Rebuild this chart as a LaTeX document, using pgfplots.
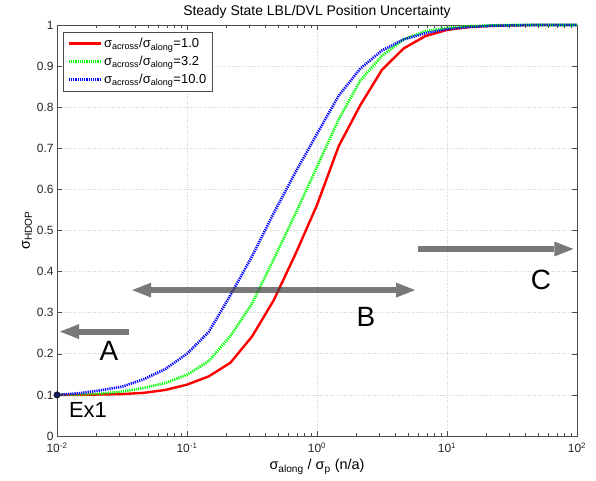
\documentclass[border=0pt]{standalone}
\usepackage{fontspec}
\setmainfont{Liberation Sans}
\usepackage{pgfplots}
\usepackage{pgfplotstable}
\pgfplotsset{compat=1.18}
\usetikzlibrary{arrows.meta}

\pgfplotstableread{
x       r      g      b
0.01    0.100  0.100  0.100
0.01468 0.100  0.101  0.104
0.02154 0.101  0.103  0.111
0.03162 0.102  0.108  0.120
0.04642 0.105  0.117  0.138
0.06813 0.112  0.129  0.163
0.1     0.125  0.149  0.200
0.1468  0.145  0.182  0.253
0.2154  0.178  0.243  0.342
0.3162  0.242  0.322  0.437
0.4642  0.330  0.430  0.542
0.6813  0.442  0.540  0.641
1.0     0.562  0.655  0.735
1.468   0.705  0.770  0.828
2.154   0.805  0.865  0.894
3.162   0.891  0.925  0.938
4.642   0.943  0.965  0.965
6.813   0.973  0.985  0.980
10      0.988  0.993  0.990
14.68   0.995  0.997  0.995
21.54   0.998  0.999  0.998
31.62   0.999  1.000  0.999
46.42   1.000  1.000  1.000
68.13   1.000  1.000  1.000
100     1.000  1.000  1.000
}\curves

\definecolor{arrowgray}{RGB}{64,64,64}
\definecolor{dotnavy}{RGB}{20,30,90}

\begin{document}
\begin{tikzpicture}
\useasboundingbox (-57bp,-45bp) rectangle (539bp,436bp);
\begin{axis}[
  at={(0,0)}, anchor=south west, scale only axis,
  width=520bp, height=411bp,
  xmode=log, xmin=0.01, xmax=100, ymin=0, ymax=1,
  clip=false,
  xtick={0.01,0.1,1,10,100},
  xticklabels={10\textsuperscript{-2},10\textsuperscript{-1},10\textsuperscript{0},10\textsuperscript{1},10\textsuperscript{2}},
  ytick={0,0.1,0.2,0.3,0.4,0.5,0.6,0.7,0.8,0.9,1},
  yticklabels={0,0.1,0.2,0.3,0.4,0.5,0.6,0.7,0.8,0.9,1},
  grid=major, major grid style={dotted, gray!35, line width=0.6bp},
  axis line style={gray!60!black},
  every tick/.style={gray!60!black},
  major tick length=5bp, minor tick length=3bp,
  tick label style={font=\fontsize{12}{14}\selectfont, text=black!85},
  xticklabel style={yshift=-3bp},
  title={Steady State LBL/DVL Position Uncertainty},
  title style={font=\fontsize{14}{16}\selectfont, yshift=-3bp},
  xlabel={σ\textsubscript{along} / σ\textsubscript{p} (n/a)},
  ylabel={σ\textsubscript{HDOP}},
  ylabel style={yshift=-2bp},
  label style={font=\fontsize{14.5}{16}\selectfont},
  legend style={at={(0.012,0.983)}, anchor=north west, draw=gray!60!black, fill=white,
    font=\fontsize{13}{15}\selectfont, row sep=3bp, inner sep=4bp},
  legend cell align=left,
  legend image code/.code={\draw[#1] (0bp,0bp) -- (32bp,0bp);},
]
\addplot[red, line width=2.4bp] table[x=x,y=r] {\curves};
\addlegendentry{σ\textsubscript{across}/σ\textsubscript{along}=1.0}
\addplot[green, line width=2.6bp, dash pattern=on 1.2bp off 1.0bp] table[x=x,y=g] {\curves};
\addlegendentry{σ\textsubscript{across}/σ\textsubscript{along}=3.2}
\addplot[blue, line width=2.6bp, dash pattern=on 1.2bp off 1.0bp] table[x=x,y=b] {\curves};
\addlegendentry{σ\textsubscript{across}/σ\textsubscript{along}=10.0}

\addplot[forget plot, only marks, mark=*, mark size=3.2bp, draw=black, fill=dotnavy] coordinates {(0.01,0.1)};

\addplot[forget plot, arrowgray, opacity=0.7, line width=6bp, -{Triangle[length=19bp,width=15bp,line width=0pt]}] coordinates {(0.0358,0.254) (0.01055,0.254)};
\addplot[forget plot, arrowgray, opacity=0.7, line width=6bp, {Triangle[length=19bp,width=15bp,line width=0pt]}-{Triangle[length=19bp,width=15bp,line width=0pt]}] coordinates {(0.0379,0.355) (5.68,0.355)};
\addplot[forget plot, arrowgray, opacity=0.7, line width=6bp, -{Triangle[length=19bp,width=15bp,line width=0pt]}] coordinates {(5.96,0.455) (93.8,0.455)};

\node[font=\fontsize{28}{30}\selectfont] at (axis cs:0.0251,0.207) {A};
\node[font=\fontsize{28}{30}\selectfont] at (axis cs:2.38,0.2895) {B};
\node[font=\fontsize{28}{30}\selectfont] at (axis cs:52.8,0.380) {C};
\node[font=\fontsize{22}{24}\selectfont] at (axis cs:0.0173,0.063) {Ex1};
\end{axis}
\end{tikzpicture}
\end{document}
